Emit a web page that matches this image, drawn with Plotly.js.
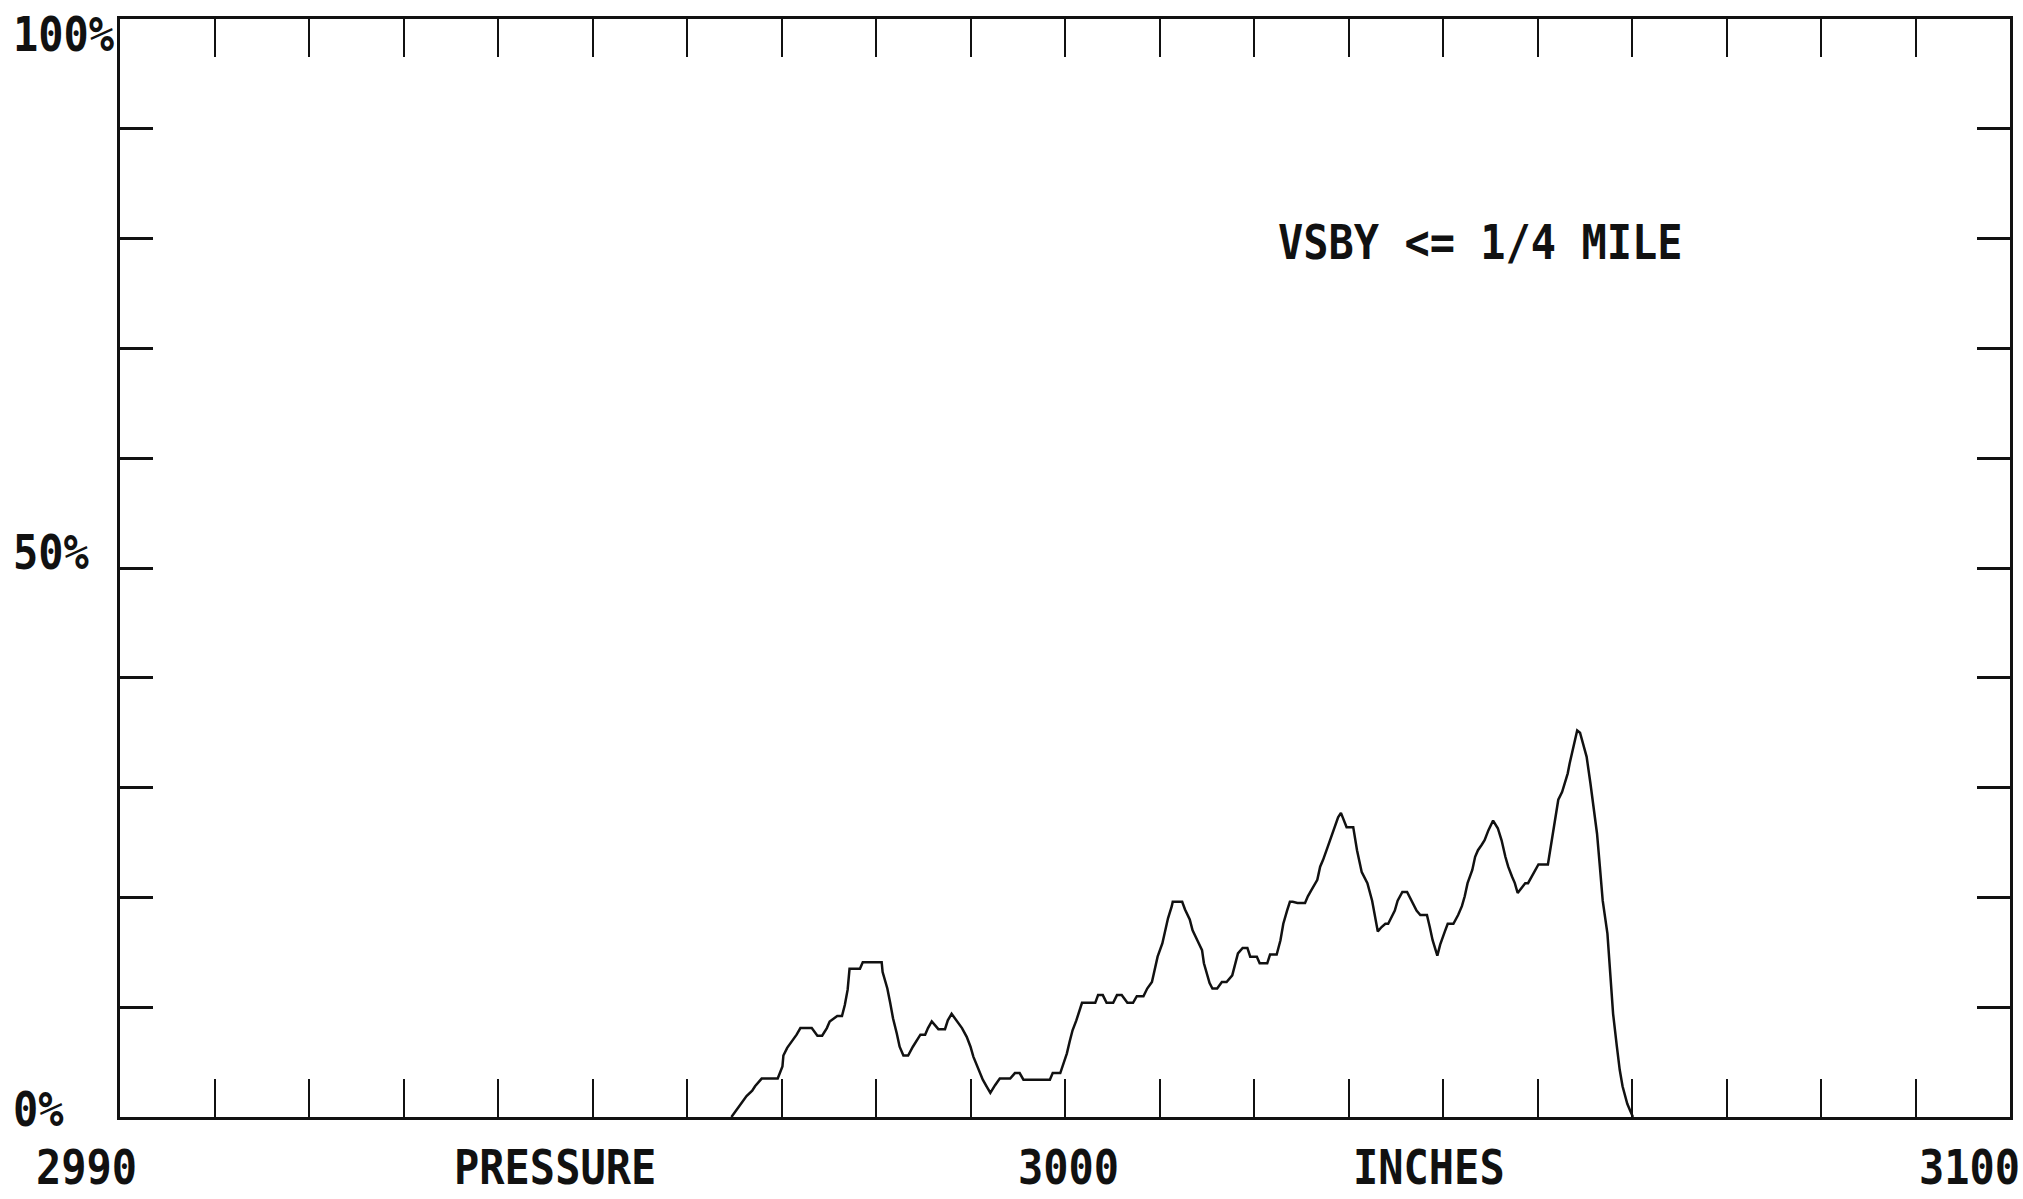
<!DOCTYPE html>
<html>
<head>
<meta charset="utf-8">
<script src="https://cdn.plot.ly/plotly-3.0.1.min.js"></script>
<style>
  html, body { margin: 0; padding: 0; background: #ffffff; }
  #chart { width: 2023px; height: 1199px; }
</style>
</head>
<body>
<div id="chart"></div>
<script>
// Pressure (hundredths of inches) and frequency (%) of visibility <= 1/4 mile
const pressure = [
  2964.7, 2965.2, 2965.8, 2966.3, 2966.9, 2967.2, 2967.9, 2969.6, 2970.1, 2970.2,
  2970.6, 2971.1, 2971.6, 2972.0, 2973.2, 2973.8, 2974.3, 2974.8, 2975.1, 2975.9,
  2976.4, 2976.7, 2977.0, 2977.2, 2978.3, 2978.6, 2980.6, 2980.7, 2981.2, 2981.5,
  2981.8, 2982.2, 2982.5, 2982.9, 2983.4, 2983.9, 2984.3, 2984.7, 2985.2, 2985.5,
  2985.9, 2986.6, 2987.3, 2987.6, 2988.0, 2988.6, 2989.1, 2989.6, 2990.0, 2990.3,
  2990.7, 2991.0, 2991.3, 2991.7, 2992.1, 2992.6, 2993.1, 2994.2, 2994.7, 2995.2,
  2995.6, 2998.4, 2998.7, 2999.5, 2999.8, 3000.2, 3000.5, 3000.8, 3001.2, 3001.5,
  3001.8, 3003.2, 3003.5, 3004.0, 3004.4, 3005.1, 3005.5, 3006.0, 3006.6, 3007.2,
  3007.6, 3008.3, 3008.7, 3009.2, 3009.5, 3009.8, 3010.3, 3010.6, 3010.9, 3011.3,
  3011.4, 3012.4, 3012.7, 3013.2, 3013.5, 3014.0, 3014.5, 3014.7, 3015.0, 3015.3,
  3015.6, 3016.1, 3016.6, 3017.1, 3017.7, 3018.0, 3018.3, 3018.8, 3019.3, 3019.6,
  3020.3, 3020.6, 3021.4, 3021.7, 3022.4, 3022.8, 3023.1, 3023.5, 3023.8, 3024.1,
  3024.6, 3025.4, 3025.7, 3026.1, 3026.7, 3027.0, 3027.3, 3027.8, 3028.4, 3028.9,
  3029.2, 3029.8, 3030.5, 3030.9, 3031.4, 3032.0, 3032.5, 3032.8, 3033.1, 3033.5,
  3033.9, 3034.2, 3034.6, 3034.9, 3035.2, 3035.7, 3036.2, 3036.7, 3037.2, 3037.6,
  3038.3, 3038.6, 3038.9, 3039.4, 3039.7, 3040.2, 3040.5, 3041.1, 3041.6, 3042.0,
  3042.3, 3042.6, 3043.1, 3043.4, 3043.7, 3044.1, 3044.4, 3044.8, 3045.3, 3045.8,
  3046.2, 3046.6, 3046.9, 3047.3, 3047.6, 3047.9, 3048.4, 3048.7, 3049.0, 3049.4,
  3049.7, 3050.1, 3051.1, 3051.5, 3051.9, 3052.2, 3052.6, 3052.9, 3053.2, 3053.4,
  3053.8, 3054.2, 3054.5, 3054.8, 3055.2, 3055.6, 3055.9, 3056.3, 3056.6, 3056.9,
  3057.4, 3057.7, 3058.0, 3058.4, 3058.7, 3059.0, 3059.5, 3059.8, 3060.1
];
const percentVsby = [
  0.0, 0.6, 1.3, 1.9, 2.4, 2.8, 3.5, 3.5, 4.6, 5.6,
  6.3, 6.9, 7.5, 8.1, 8.1, 7.4, 7.4, 8.1, 8.7, 9.2,
  9.2, 10.2, 11.6, 13.5, 13.5, 14.1, 14.1, 13.2, 11.7, 10.4,
  9.0, 7.6, 6.4, 5.6, 5.6, 6.4, 7.0, 7.5, 7.5, 8.1,
  8.7, 8.0, 8.0, 8.8, 9.4, 8.7, 8.1, 7.3, 6.4, 5.5,
  4.6, 4.0, 3.4, 2.8, 2.2, 2.9, 3.5, 3.5, 4.0, 4.0,
  3.4, 3.4, 4.0, 4.0, 4.7, 5.8, 6.9, 7.9, 8.8, 9.7,
  10.4, 10.4, 11.1, 11.1, 10.4, 10.4, 11.1, 11.1, 10.4, 10.4,
  11.0, 11.0, 11.7, 12.3, 13.4, 14.6, 15.8, 17.0, 18.1, 19.2,
  19.6, 19.6, 18.9, 18.0, 17.0, 16.1, 15.2, 14.0, 13.1, 12.2,
  11.7, 11.7, 12.3, 12.3, 12.9, 13.8, 14.9, 15.4, 15.4, 14.6,
  14.6, 14.0, 14.0, 14.8, 14.8, 16.1, 17.6, 18.8, 19.6, 19.6,
  19.5, 19.5, 20.1, 20.7, 21.6, 22.8, 23.4, 24.6, 26.0, 27.3,
  27.7, 26.4, 26.4, 24.3, 22.3, 21.3, 19.7, 18.3, 16.9, 17.3,
  17.6, 17.6, 18.3, 18.8, 19.7, 20.5, 20.5, 19.7, 18.8, 18.4,
  18.4, 17.3, 16.1, 14.7, 15.7, 16.9, 17.6, 17.6, 18.4, 19.2,
  20.1, 21.3, 22.5, 23.7, 24.3, 24.8, 25.2, 26.1, 27.0, 26.3,
  25.2, 23.7, 22.8, 21.9, 21.3, 20.4, 21.0, 21.3, 21.3, 21.9,
  22.4, 23.0, 23.0, 25.2, 27.0, 28.9, 29.6, 30.4, 31.3, 32.2,
  33.7, 35.2, 35.0, 34.0, 32.8, 30.4, 28.3, 25.8, 22.8, 19.7,
  16.7, 13.1, 9.4, 6.4, 4.3, 2.8, 1.2, 0.6, 0.0
];

const yTickLabels = ["100%", "50%", "0%"];
const xLabels = ["2990", "PRESSURE", "3000", "INCHES", "3100"];
const chartNote = "VSBY <= 1/4 MILE";

const FONT = { family: "DejaVu Sans Mono, Liberation Mono, monospace", size: 42, color: "#111111", weight: "bold" };

const annotations = [];
// y-axis labels (left)
const yLabelPaperY = [0.9863, 0.5137, 0.0064];
yTickLabels.forEach((t, i) => {
  annotations.push({ text: t, xref: "paper", yref: "paper", x: -0.0577, y: yLabelPaperY[i],
    xanchor: "left", yanchor: "middle", showarrow: false, font: FONT });
});
// bottom labels
const xLabelPaperX = [-0.0175, 0.2302, 0.5016, 0.6926, 0.9788];
xLabels.forEach((t, i) => {
  annotations.push({ text: t, xref: "paper", yref: "paper", x: xLabelPaperX[i], y: -0.0464,
    xanchor: "center", yanchor: "middle", showarrow: false, font: FONT });
});
annotations.push({ text: chartNote, xref: "paper", yref: "paper", x: 0.7196, y: 0.796,
  xanchor: "center", yanchor: "middle", showarrow: false, font: FONT });

const trace = {
  x: pressure, y: percentVsby, type: "scatter", mode: "lines",
  line: { color: "#111111", width: 2.5 }, cliponaxis: false, hoverinfo: "skip"
};

const layout = {
  width: 2023, height: 1199,
  margin: { l: 120, r: 13, t: 19, b: 82, pad: 0 },
  paper_bgcolor: "#ffffff", plot_bgcolor: "#ffffff",
  showlegend: false,
  xaxis: {
    range: [2900, 3100], dtick: 10, tick0: 2900,
    ticks: "inside", ticklen: 38, tickwidth: 2, tickcolor: "#111111",
    showticklabels: false, showgrid: false, zeroline: false,
    showline: true, linecolor: "#111111", linewidth: 3, mirror: "ticks", fixedrange: true
  },
  yaxis: {
    range: [0, 100], dtick: 10, tick0: 0,
    ticks: "inside", ticklen: 33, tickwidth: 3, tickcolor: "#111111",
    showticklabels: false, showgrid: false, zeroline: false,
    showline: true, linecolor: "#111111", linewidth: 3, mirror: "ticks", fixedrange: true
  },
  annotations: annotations
};

Plotly.newPlot("chart", [trace], layout, { staticPlot: true, displayModeBar: false }).then(() => {
  document.querySelectorAll("#chart .annotation-text").forEach(t => {
    t.style.transformBox = "fill-box";
    t.style.transformOrigin = "center";
    t.style.transform = "scaleY(1.15)";
  });
});
</script>
</body>
</html>
